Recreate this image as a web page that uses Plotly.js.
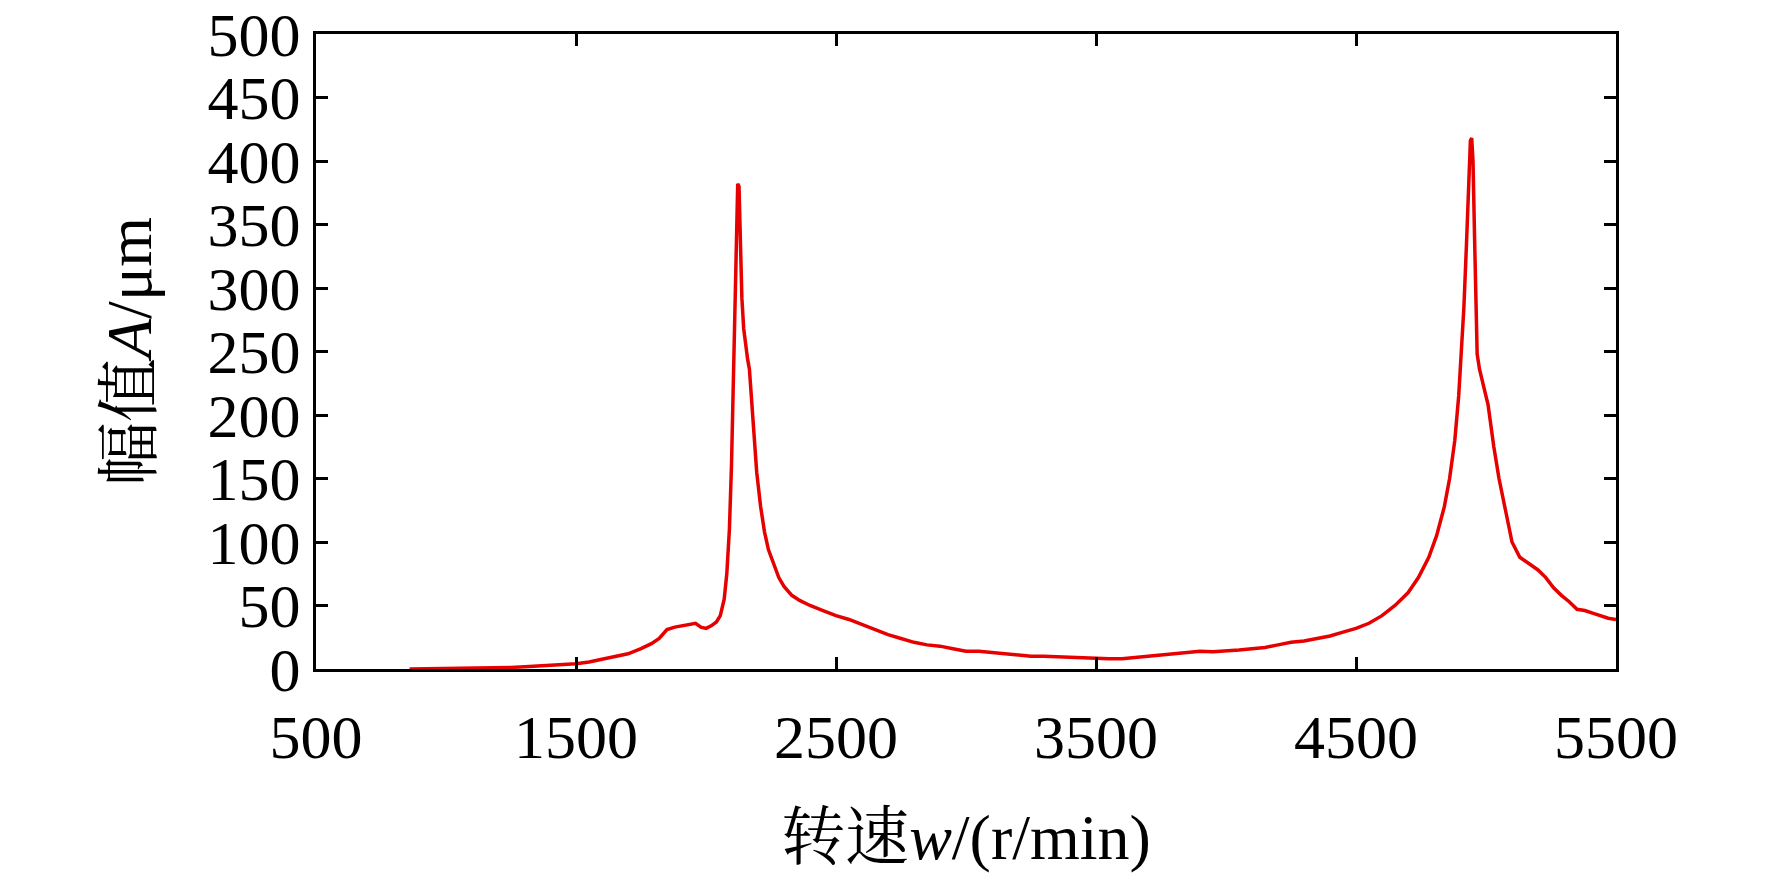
<!DOCTYPE html>
<html>
<head>
<meta charset="utf-8">
<script src="https://cdn.plot.ly/plotly-3.0.1.min.js"></script>
<style>
  html, body { margin: 0; padding: 0; background: #fff; }
  #plot-amp { width: 1772px; height: 880px; }
</style>
</head>
<body>
<div id="plot-amp"></div>
<script>
// rotating speed, r/min
var speed = [
    860, 950, 1050, 1150, 1250, 1320, 1400, 1460, 1500, 1550,
    1600, 1650, 1700, 1750, 1790, 1820, 1850, 1880, 1910, 1940,
    1960, 1980, 2000, 2020, 2040, 2055, 2070, 2080, 2090, 2098,
    2105, 2112, 2118, 2122, 2127, 2132, 2138, 2145, 2152, 2160,
    2167, 2175, 2185, 2195, 2210, 2225, 2240, 2260, 2280, 2300,
    2330, 2360, 2400, 2450, 2500, 2550, 2600, 2650, 2700, 2750,
    2800, 2850, 2900, 2950, 3000, 3050, 3100, 3150, 3200, 3250,
    3300, 3350, 3400, 3450, 3500, 3550, 3600, 3650, 3700, 3750,
    3800, 3850, 3900, 3950, 4000, 4050, 4100, 4150, 4200, 4250,
    4300, 4350, 4400, 4450, 4500, 4550, 4600, 4650, 4700, 4740,
    4780, 4810, 4840, 4860, 4880, 4895, 4905, 4915, 4925, 4933,
    4940, 4945, 4950, 4956, 4962, 4966, 4975, 4990, 5008, 5030,
    5050, 5075, 5100, 5130, 5160, 5200, 5230, 5260, 5290, 5320,
    5350, 5380, 5410, 5440, 5470, 5500
];

// vibration amplitude, um
var amp = [
    0, 0.2, 0.4, 0.8, 1.2, 2.0, 3.0, 3.6, 4.2, 5.5,
    7.5, 9.5, 12, 16, 20, 24, 31, 33, 34, 35,
    36, 33, 32, 34, 37, 42, 55, 75, 110, 160,
    230, 310, 360, 382, 380, 335, 292, 268, 255, 244,
    236, 210, 180, 155, 128, 108, 94, 82, 72, 65,
    58, 54, 50, 46, 42, 39, 35, 31, 27, 24,
    21, 19, 18, 16, 14, 14, 13, 12, 11, 10,
    10, 9.5, 9, 8.5, 8, 8, 8, 9, 10, 11,
    12, 13, 14, 13.5, 14, 15, 16, 17, 19, 21,
    22, 24, 26, 29, 32, 36, 42, 50, 60, 72,
    88, 105, 128, 150, 180, 215, 245, 285, 335, 390,
    416, 418, 400, 340, 270, 248, 236, 222, 208, 175,
    150, 125, 100, 88, 84, 78, 72, 64, 58, 53,
    47, 46, 44, 42, 40, 39
];

var xTicks = [500, 1500, 2500, 3500, 4500, 5500];
var yTicks = [0, 50, 100, 150, 200, 250, 300, 350, 400, 450, 500];

function plot_amp() {
    'use strict';

    var serif = "'Liberation Serif', 'Times New Roman', 'Noto Serif CJK SC', 'Noto Sans CJK SC', serif";

    var trace = {
        type: "scatter",
        mode: "lines",
        x:    speed,
        y:    amp,
        line: {color: "#e60000", width: 3.5}
    };

    var axisCommon = {
        showgrid:  false,
        zeroline:  false,
        showline:  true,
        linecolor: "#000",
        linewidth: 3,
        mirror:    "ticks",
        ticks:     "inside",
        ticklen:   12,
        tickwidth: 3,
        tickcolor: "#000",
        tickfont:  {family: serif, size: 62, color: "#000"}
    };

    var layout = {
        width:  1772,
        height: 880,
        margin: {l: 316, r: 156, t: 34, b: 211, pad: 0},
        paper_bgcolor: "#fff",
        plot_bgcolor:  "#fff",
        showlegend: false,
        xaxis: Object.assign({}, axisCommon, {
            range:    [500, 5500],
            tickvals: xTicks,
            ticktext: xTicks.map(String),
            ticklabelstandoff: 12,
            title: {text: "转速<i>w</i>/(r/min)", font: {family: serif, size: 64, color: "#000"}, standoff: 44}
        }),
        yaxis: Object.assign({}, axisCommon, {
            range:    [0, 500],
            tickvals: yTicks,
            ticktext: yTicks.map(String),
            title: {text: "幅值<i>A</i>/μm", font: {family: serif, size: 64, color: "#000"}, standoff: 36}
        })
    };

    Plotly.newPlot('plot-amp', [trace], layout, {displayModeBar: false, staticPlot: true});
}

plot_amp();
</script>
</body>
</html>
